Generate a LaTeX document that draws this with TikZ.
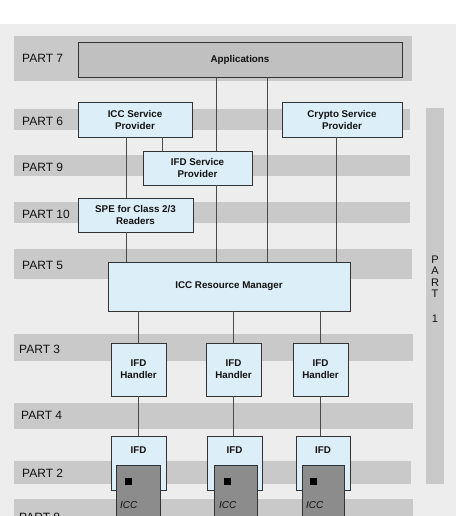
\documentclass[tikz,border=0pt]{standalone}
\usepackage{fontspec}
\setmainfont{Liberation Sans}
\begin{document}
\begin{tikzpicture}[x=1pt,y=-1pt,
  band/.style={fill=bandgray,draw=none},
  box/.style={draw=boxline,line width=0.9pt,fill=lightblue,inner sep=0pt,outer sep=0pt,align=center,font=\fontsize{9.8}{12}\selectfont\bfseries,text=textdark},
  appbox/.style={box,fill=appgray},
  card/.style={draw=boxline,line width=0.8pt,fill=cardgray,inner sep=0pt,outer sep=0pt},
  partlabel/.style={anchor=west,font=\fontsize{12}{13}\selectfont,text=textdark,inner sep=0pt},
  icctext/.style={font=\fontsize{10}{11}\selectfont\itshape,text=textdark,anchor=west,inner sep=0pt},
  conn/.style={draw=connline,line width=0.9pt}]
\definecolor{bg}{HTML}{EDEDED}
\definecolor{bandgray}{HTML}{C9C9C9}
\definecolor{appgray}{HTML}{C0C0C0}
\definecolor{lightblue}{HTML}{DCEEF8}
\definecolor{cardgray}{HTML}{8C8C8C}
\definecolor{boxline}{HTML}{333333}
\definecolor{connline}{HTML}{4A4A4A}
\definecolor{textdark}{HTML}{111111}
\useasboundingbox (0,0) rectangle (456,516);
\clip (0,0) rectangle (456,516);
\fill[white] (0,0) rectangle (456,24);
\fill[bg] (0,24) rectangle (456,516);
% bands
\fill[band] (14,36) rectangle (412,81);
\fill[band] (14,109) rectangle (410,130);
\fill[band] (14,155) rectangle (410,176);
\fill[band] (14,202) rectangle (410,223);
\fill[band] (14,249) rectangle (412,279);
\fill[band] (14,334) rectangle (413,361);
\fill[band] (14,403) rectangle (413,429);
\fill[band] (14,461) rectangle (411,484);
\fill[band] (14,499) rectangle (413,530);
\fill[band] (426,108) rectangle (444,484);
% part labels
\node[partlabel] (p7) at (22,58) {PART 7};
\node[partlabel] (p6) at (22,121) {PART 6};
\node[partlabel] (p9) at (22,167) {PART 9};
\node[partlabel] (p10) at (22,214) {PART 10};
\node[partlabel] (p5) at (22,265) {PART 5};
\node[partlabel] (p3) at (19,349) {PART 3};
\node[partlabel] (p4) at (21,415) {PART 4};
\node[partlabel] (p2) at (22,473) {PART 2};
\node[partlabel] (p8) at (19,517) {PART 8};
\node[align=center,font=\fontsize{11}{11.5}\selectfont,text=textdark,inner sep=0pt] (p1) at (435,289) {P\\A\\R\\T\\[13pt]1};
% boxes
\node[appbox,minimum width=324,minimum height=35] (app) at (240,59.5) {Applications};
\node[box,minimum width=114,minimum height=35] (iccsp) at (135,119.5) {ICC Service\\Provider};
\node[box,minimum width=120,minimum height=35] (cryptosp) at (342,119.5) {Crypto Service\\Provider};
\node[box,minimum width=109,minimum height=34] (ifdsp) at (197.5,168) {IFD Service\\Provider};
\node[box,minimum width=115,minimum height=34] (spe) at (135.5,215) {SPE for Class 2/3\\Readers};
\node[box,minimum width=242,minimum height=49] (rm) at (229,286.5) {ICC Resource Manager};
\node[box,minimum width=55,minimum height=53] (h1) at (138.5,369.5) {IFD\\Handler};
\node[box,minimum width=55,minimum height=53] (h2) at (233.5,369.5) {IFD\\Handler};
\node[box,minimum width=55,minimum height=53] (h3) at (320.5,369.5) {IFD\\Handler};
\node[box,minimum width=55,minimum height=54,text depth=25pt] (ifd1) at (138.5,463) {IFD};
\node[box,minimum width=55,minimum height=54,text depth=25pt] (ifd2) at (234.5,463) {IFD};
\node[box,minimum width=54,minimum height=54,text depth=25pt] (ifd3) at (323,463) {IFD};
% cards
\node[card,minimum width=44,minimum height=60,anchor=north] (icc1) at (138,465) {};
\node[card,minimum width=43,minimum height=60,anchor=north] (icc2) at (235.5,465) {};
\node[card,minimum width=42,minimum height=60,anchor=north] (icc3) at (323,465) {};
\fill[black] (125,478) rectangle (132,485);
\fill[black] (224,478) rectangle (231,485);
\fill[black] (310,478) rectangle (317,485);
\node[icctext] (t1) at (120,505) {ICC};
\node[icctext] (t2) at (219,505) {ICC};
\node[icctext] (t3) at (306,505) {ICC};
% connectors
\coordinate (xa) at (216,0);
\coordinate (xb) at (267,0);
\coordinate (xc) at (162,0);
\coordinate (xd) at (126,0);
\coordinate (xe) at (336,0);
\path[conn] (app.south -| xa) -- (ifdsp.north -| xa);
\path[conn] (ifdsp.south -| xa) -- (rm.north -| xa);
\path[conn] (app.south -| xb) -- (rm.north -| xb);
\path[conn] (iccsp.south -| xc) -- (ifdsp.north -| xc);
\path[conn] (iccsp.south -| xd) -- (spe.north -| xd);
\path[conn] (spe.south -| xd) -- (rm.north -| xd);
\path[conn] (cryptosp.south -| xe) -- (rm.north -| xe);
\path[conn] (rm.south -| h1.north) -- (h1.north);
\path[conn] (rm.south -| h2.north) -- (h2.north);
\path[conn] (rm.south -| h3.north) -- (h3.north);
\path[conn] (h1.south) -- (ifd1.north -| h1.south);
\path[conn] (h2.south) -- (ifd2.north -| h2.south);
\path[conn] (h3.south) -- (ifd3.north -| h3.south);
\end{tikzpicture}
\end{document}
